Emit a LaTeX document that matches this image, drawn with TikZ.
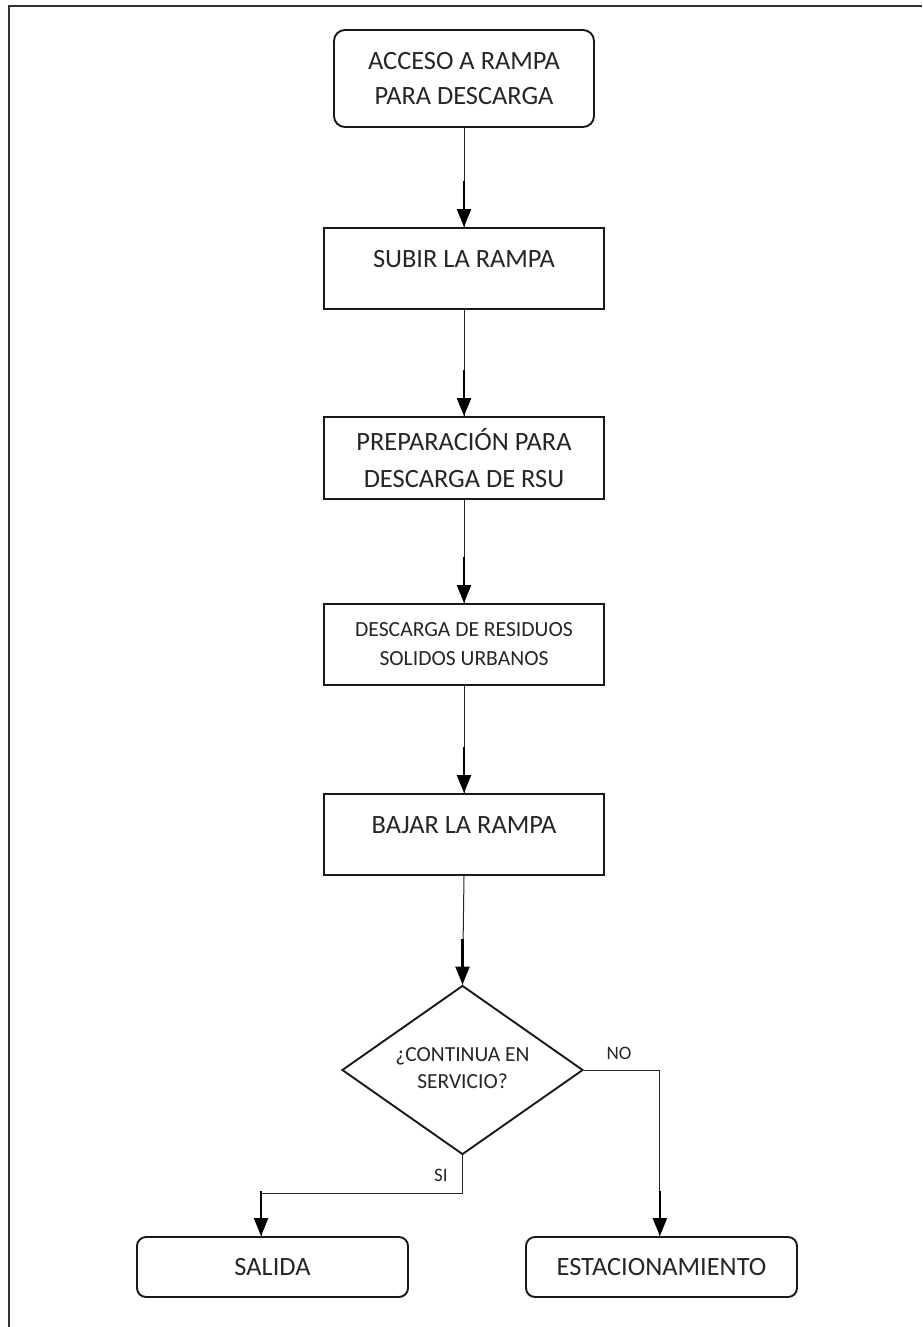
\documentclass[tikz,border=0pt]{standalone}
\usepackage{fontspec}
\setmainfont{Carlito}
\usetikzlibrary{shapes.geometric,arrows.meta,calc}
\begin{document}
\begin{tikzpicture}[x=1pt,y=-1pt,
  frame/.style={draw=black!80, line width=2.2pt},
  procbox/.style={draw=black!90, line width=1.9pt, inner sep=0pt,
    minimum width=280pt, minimum height=81pt, align=center,
    font=\fontsize{26.4}{35}\selectfont, text=black!85},
  termbox/.style={procbox, rounded corners=9pt, minimum width=271pt, minimum height=60pt},
  decision/.style={draw=black!90, line width=1.9pt, shape=diamond, aspect=1.43,
    inner sep=0pt, minimum width=241pt, minimum height=169pt, align=center,
    font=\fontsize{21.5}{26}\selectfont, text=black!85},
  lbl/.style={inner sep=0pt, font=\fontsize{19}{22}\selectfont, text=black!85},
  conn/.style={draw=black!85, line width=1pt},
  tipseg/.style={draw=black, line width=2.4pt,
    -{Triangle[length=18pt,width=14pt]}},
  ]
\useasboundingbox (0,0) rectangle (922,1327);
\fill[white] (0,0) rectangle (922,1327);
% outer frame (top and left edges visible)
\draw[frame] (9,1327) -- (9,6) -- (922,6);

% nodes
\node[procbox, rounded corners=11pt, minimum width=260pt, minimum height=97pt]
  (b1) at (464,78.5) {ACCESO A RAMPA\\PARA DESCARGA};
\node[procbox, text height=17pt, text depth=19pt] (b2) at (464,268.5) {SUBIR LA RAMPA};
\node[procbox, minimum height=82pt, font=\fontsize{26.4}{37}\selectfont]
  (b3) at (464,458) {PREPARACIÓN PARA\\DESCARGA DE RSU};
\node[procbox, font=\fontsize{21.6}{29}\selectfont]
  (b4) at (464,644.5) {DESCARGA DE RESIDUOS\\SOLIDOS URBANOS};
\node[procbox, text height=17pt, text depth=19pt] (b5) at (464,834.5) {BAJAR LA RAMPA};
\node[decision] (d) at (462.5,1070) {\raisebox{-4pt}{\begin{tabular}{@{}c@{}}¿CONTINUA EN\\[1pt]SERVICIO?\end{tabular}}};
\node[termbox, text height=17pt, text depth=0pt] (sal) at (272.5,1267) {SALIDA};
\node[termbox, text height=17pt, text depth=0pt] (est) at (661.5,1267) {ESTACIONAMIENTO};
\node[lbl] (si) at (441,1175) {SI};
\node[lbl] (no) at (619,1053) {NO};

\coordinate (sitop) at ($(sal.north west)!0.458!(sal.north east)$);
\coordinate (estop) at ($(est.north west)!0.494!(est.north east)$);

% connectors
\draw[conn] (b1.south) -- (b2.north);
\draw[tipseg] ($(b2.north)+(0,-46)$) -- (b2.north);
\draw[conn] (b2.south) -- (b3.north);
\draw[tipseg] ($(b3.north)+(0,-46)$) -- (b3.north);
\draw[conn] (b3.south) -- (b4.north);
\draw[tipseg] ($(b4.north)+(0,-46)$) -- (b4.north);
\draw[conn] (b4.south) -- (b5.north);
\draw[tipseg] ($(b5.north)+(0,-46)$) -- (b5.north);
\draw[conn] (b5.south) -- (d.north);
\draw[tipseg] ($(d.north)+(0,-46)$) -- (d.north);

\draw[conn] (d.south) -- ++(0,38) -| (sitop);
\draw[tipseg] ($(sitop)+(0,-45)$) -- (sitop);
\draw[conn] (d.east) -| (estop);
\draw[tipseg] ($(estop)+(0,-45)$) -- (estop);
\end{tikzpicture}
\end{document}
